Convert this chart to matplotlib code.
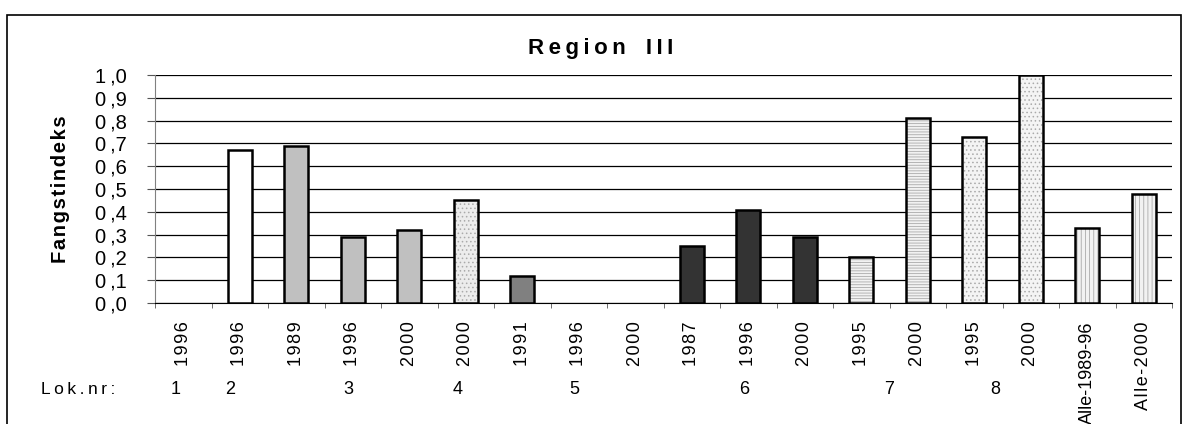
import matplotlib.pyplot as plt
import matplotlib.patches as mpatches
import numpy as np

plt.rcParams['font.family'] = ['Liberation Sans', 'DejaVu Sans']
plt.rcParams['hatch.linewidth'] = 0.6

# data
years = ['1996', '1996', '1989', '1996', '2000', '2000', '1991', '1996', '2000',
         '1987', '1996', '2000', '1995', '2000', '1995', '2000',
         'Alle-1989-96', 'Alle-2000']
values = [0.0, 0.67, 0.69, 0.29, 0.32, 0.45, 0.12, 0.0, 0.0,
          0.25, 0.41, 0.29, 0.20, 0.81, 0.73, 1.0, 0.33, 0.48]
lok_labels = ['1', '2', '3', '4', '5', '6', '7', '8']
lok_pos = [-0.13, 0.83, 2.93, 4.85, 6.93, 9.92, 12.5, 14.37]

# bar styles (face colour, hatch)
faces = ['white', 'white', '#c0c0c0', '#c0c0c0', '#c0c0c0', '#ececec', '#808080',
         'white', 'white', '#333333', '#333333', '#333333',
         '#f2f2f2', '#f2f2f2', '#f4f4f4', '#f4f4f4', '#f2f2f2', '#f2f2f2']
hatches = [None, None, None, None, None, '....', None, None, None, None, None, None,
           '------', '------', '....', '....', '||||', '||||']


def spaced(s, gap='\u2009'):
    # the original text is drawn with wide letter spacing
    return gap.join(s.replace(' ', '\u2002'))


fig = plt.figure(figsize=(11.84, 4.24), dpi=100)
ax = fig.add_axes([155 / 1184, 121 / 424, 1017 / 1184, 228 / 424])

x = np.arange(len(values))
w = 0.43
for i in range(len(values)):
    if values[i] <= 0:
        continue
    ax.bar(x[i], values[i], width=w, color=faces[i], hatch=hatches[i],
           edgecolor='#aaaaaa', linewidth=0, zorder=3)
    ax.bar(x[i], values[i], width=w, color='none', edgecolor='black',
           linewidth=1.8, zorder=4)

ax.set_xlim(-0.5, len(values) - 0.5)
ax.set_ylim(0, 1.0)
yt = np.arange(0, 1.01, 0.1)
ax.set_yticks(yt)
ax.set_yticklabels([f'{v:.1f}'.replace('.', '\u2009,') for v in yt], fontsize=14.5)
ax.yaxis.grid(True, color='black', linewidth=0.9, zorder=1)
ax.set_axisbelow(True)

xlabels = [spaced(y, '\u200a') if len(y) < 10 else y for y in years]
ax.set_xticks(x)
ax.set_xticklabels(xlabels, rotation=90, fontsize=13, va='top')
ax.set_xticks(np.arange(-0.5, len(values)), minor=True)
ax.tick_params(axis='x', which='major', length=0, pad=13)
ax.tick_params(axis='x', which='minor', length=3.6, color='#555555')
ax.tick_params(axis='y', length=6, color='#555555', pad=14.5)

for s in ['top', 'right']:
    ax.spines[s].set_visible(False)
ax.spines['left'].set_color('#808080')
ax.spines['bottom'].set_color('black')

ax.set_ylabel(spaced('Fangstindeks', '\u200a'), fontsize=14.5, fontweight='bold',
              labelpad=18)
fig.text(601 / 1184, 1 - 54 / 424, spaced('Region III'), fontsize=16,
         fontweight='bold', ha='center', va='baseline')

# location numbers under the years
fig.text(78 / 1184, 1 - 389 / 424, spaced('Lok.nr:'), fontsize=12.5,
         ha='center', va='center')
for lab, p in zip(lok_labels, lok_pos):
    ax.text(p, -0.38, lab, fontsize=13, ha='center', va='center',
            transform=ax.get_xaxis_transform())

# outer frame
fig.patches.append(mpatches.Rectangle((7 / 1184, -0.1), 1174 / 1184, 1.1 - 15 / 424,
                                      transform=fig.transFigure, fill=False,
                                      edgecolor='black', linewidth=1.2))

fig.savefig('out.png', dpi=100)
